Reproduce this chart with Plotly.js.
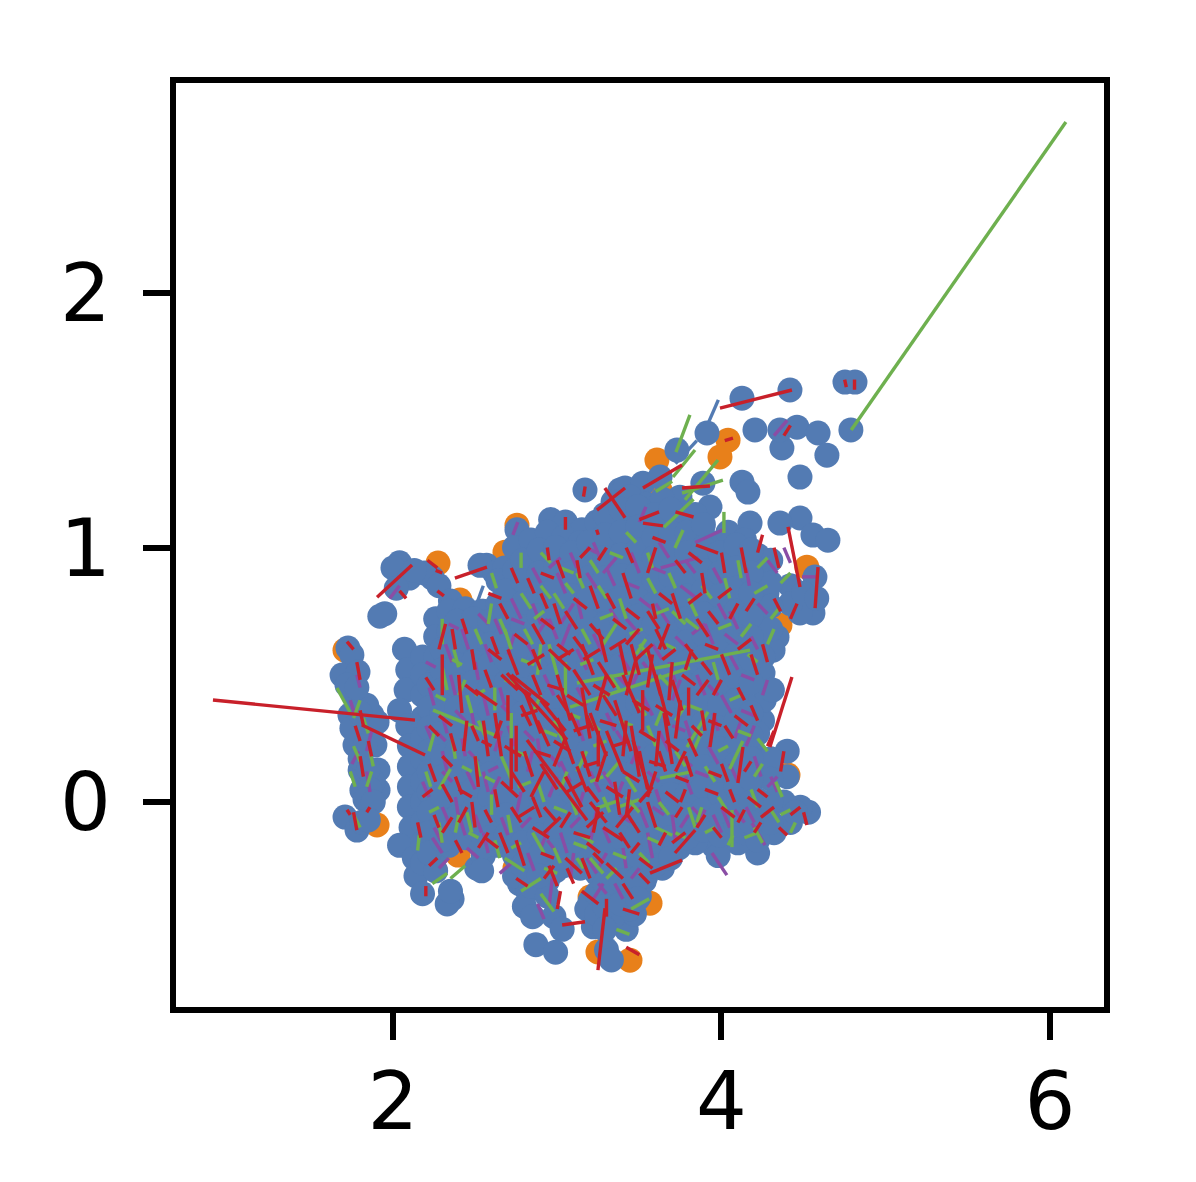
<!DOCTYPE html>
<html>
<head>
<meta charset="utf-8">
<script src="https://cdn.plot.ly/plotly-3.0.1.min.js"></script>
<style>html,body{margin:0;padding:0;background:#fff}</style>
</head>
<body>
<div id="chart" style="width:1196px;height:1182px"></div>
<script>
// values, in axis units
const tickX = [2, 4, 6];
const tickY = [0, 1, 2];

const orangePoints = [[2.274,.939],[2.755,1.088],[2.682,.982],[2.408,.794],[3.607,1.344],[4.04,1.422],[3.991,1.356],[3.626,1.226],[4.52,.923],[4.356,.695],[4.405,.106],[3.443,-.621],[3.248,-.589],[1.903,-.09],[2.743,-.259],[3.2,-.373],[2.396,-.208],[2.256,-.267],[1.708,.597],[2.548,.373],[3.565,-.397]];

// outlying blobs, one by one
const bluePoints = [[4.417,1.619],[4.752,1.65],[4.813,1.65],[4.788,1.462],[4.125,1.587],[4.204,1.462],[4.368,1.391],[4.356,1.462],[4.46,1.473],[4.588,1.45],[4.642,1.363],[4.478,1.277],[3.912,1.45],[3.729,1.383],[4.125,1.257],[4.161,1.218],[3.169,1.226],[3.382,1.226],[3.413,1.234],[3.522,1.253],[3.626,1.277],[3.887,1.253],[3.747,1.198],[3.93,1.159],[4.478,1.116],[4.557,1.049],[4.648,1.029],[4.356,1.096],[4.174,1.096],[4.569,.884],[4.557,.743],[4.478,.743],[4.338,.648],[4.314,.597],[4.277,.821],[4.253,.57],[4.253,.507],[4.42,.85],[4.42,.78],[4.5,.82],[4.58,.8],[3.2,-.39],[3.18,-.42],
  [1.726,.605],[1.75,.578],[1.69,.499],[1.787,.511],[1.769,.42],[1.738,.342],[1.872,.342],[1.811,.283],[1.903,.314],[1.769,.224],[1.89,.224],[1.8,.126],[1.909,.126],[1.811,.047],[1.909,.047],[1.8,.17],[1.88,.08],[1.75,.29],[1.84,.38],[1.83,.22],[1.85,.13],[1.86,.05],[1.83,.01],[1.88,.0],[1.72,.46],[1.78,.45],[1.8,.35],[1.708,-.059],[1.781,-.11],[1.811,-.079],[1.85,-.07],
  [2.04,.94],[2.0,.92],[2.1,.88],[2.02,.84],[1.95,.74],[1.92,.73],[2.24,.88],[2.19,.9],[2.13,.91],[2.28,.85],[2.35,.79],[2.57,.93],[2.53,.93],[2.62,.9],[2.755,1.07],[2.96,1.11],[3.05,1.1],[3.15,1.07],[3.25,1.05],[2.87,1.0],[2.78,.96],[2.68,.92],[2.43,.75],[2.55,.75],
  [2.07,.6],[2.09,.52],[2.08,.44],[2.04,.36],[2.09,.3],[2.1,.22],[2.1,.14],[2.1,.06],[2.1,-.02],[2.11,-.1],[2.04,-.17],[2.13,-.22],[2.14,-.29],[2.18,-.36],[2.36,-.38],[2.33,-.4],[2.35,-.35],[2.51,-.26],[2.55,-.21],[2.77,-.32],[2.82,-.35],[2.8,-.41],[2.85,-.45],[2.98,-.45],[3.03,-.5],[2.87,-.56],[2.99,-.59],[3.22,-.49],[3.3,-.58],[3.33,-.62],[3.42,-.5],[3.47,-.44],[3.5,-.37],[3.53,-.31],
  [4.53,-.04],[4.48,-.02],[4.42,-.08],[4.32,-.12],[4.22,-.2],[4.1,-.16],[3.95,-.17],[3.98,-.21],[4.4,.2],[4.4,.1],[4.38,.0],[4.25,.32],[4.26,.4],[4.31,.44],[4.45,-.04]];

// the dense body, as columns of points
const bodyX = [2.18, 2.26, 2.34, 2.44, 2.54, 2.64, 2.74, 2.84, 2.94, 3.04, 3.14, 3.24, 3.34, 3.44, 3.54, 3.64, 3.74, 3.84, 3.94, 4.04, 4.14, 4.22, 4.3];
const bodyY = [
  [.57,.5,.42,.33,.25,.17,.08,0,-.08,-.16,-.24],
  [.72,.65,.57,.48,.4,.31,.23,.14,.06,-.03,-.11,-.2,-.27],
  [.75,.67,.58,.5,.41,.33,.24,.16,.07,-.02,-.1,-.17],
  [.76,.68,.6,.51,.43,.35,.26,.18,.09,.01,-.07,-.14],
  [.75,.67,.58,.5,.4,.32,.23,.15,.06,-.02,-.1,-.18,-.27],
  [.87,.78,.69,.6,.52,.43,.34,.26,.17,.08,0,-.09,-.17],
  [1.0,.91,.83,.74,.65,.57,.48,.39,.31,.22,.13,.05,-.04,-.12,-.21,-.29],
  [1.03,.95,.86,.78,.69,.6,.52,.43,.34,.26,.17,.09,0,-.08,-.17,-.25,-.33],
  [1.06,.98,.89,.8,.72,.63,.54,.46,.37,.29,.2,.11,.03,-.06,-.14,-.23,-.31,-.37],
  [1.04,.96,.87,.78,.7,.61,.53,.44,.35,.27,.18,.09,.01,-.08,-.16,-.25],
  [1.02,.94,.85,.76,.68,.59,.51,.42,.33,.25,.16,.07,-.01,-.1,-.18,-.26],
  [1.1,1.01,.93,.84,.75,.67,.58,.5,.41,.32,.24,.15,.06,-.02,-.11,-.19,-.28,-.36,-.44],
  [1.18,1.09,1.0,.92,.83,.74,.66,.57,.49,.4,.31,.23,.14,.05,-.03,-.12,-.2,-.29,-.37,-.45],
  [1.2,1.12,1.03,.94,.86,.77,.69,.6,.51,.43,.34,.25,.17,.08,0,-.09,-.17,-.26,-.35,-.42],
  [1.17,1.08,1.0,.91,.82,.74,.65,.57,.48,.39,.31,.22,.13,.05,-.04,-.12,-.21,-.29],
  [1.19,1.1,1.02,.93,.84,.76,.67,.58,.5,.41,.32,.24,.15,.07,-.02,-.1,-.19,-.26],
  [1.1,1.02,.93,.85,.76,.67,.59,.5,.41,.33,.24,.16,.07,-.01,-.1,-.18],
  [1.13,1.05,.96,.87,.79,.7,.62,.53,.44,.36,.27,.18,.1,.01,-.07,-.16],
  [1.02,.94,.85,.76,.68,.59,.51,.42,.33,.25,.16,.07,-.01,-.1],
  [1.06,.97,.88,.8,.71,.62,.54,.45,.36,.28,.19,.11,.02,-.06,-.12],
  [1.03,.95,.86,.78,.69,.6,.52,.39,.3,.22,.13,.05,-.04,-.12],
  [.97,.88,.8,.71,.62,.27,.18,.1,.01,-.07,-.15],
  [.95,.86,.77,.68,.17,.09,0,-.08]
];

// more points between those columns, they close the small holes
const fillX = [2.22, 2.3, 2.39, 2.49, 2.59, 2.69, 2.79, 2.89, 2.99, 3.09, 3.19, 3.29, 3.39, 3.49, 3.59, 3.69, 3.79, 3.89, 3.99, 4.09, 4.18];
const fillY = [
  [.46,.37,.29,.2,.12,.04,-.04,-.12,-.2],
  [.6,.52,.44,.35,.27,.18,.1,.02,-.07,-.15],
  [.71,.63,.54,.46,.37,.29,.2,.12,.03,-.06],
  [.72,.64,.55,.47,.38,.3,.22,.13,.05,-.03,-.1],
  [.71,.62,.54,.45,.36,.28,.19,.11,.02,-.06,-.14],
  [.83,.74,.65,.56,.47,.39,.3,.21,.13,.04,-.05,-.13],
  [.95,.87,.78,.69,.61,.52,.44,.35,.26,.18,.09,.01,-.08,-.16,-.25],
  [.99,.9,.82,.73,.65,.56,.47,.39,.3,.21,.13,.04,-.04,-.13,-.21,-.29],
  [1.0,.92,.84,.75,.67,.58,.5,.41,.32,.24,.15,.07,-.02,-.1,-.19,-.27],
  [.98,.9,.81,.73,.64,.55,.47,.38,.3,.21,.13,.04,-.05,-.13,-.21],
  [1.02,.94,.88,.8,.71,.63,.54,.46,.37,.28,.2,.11,.03,-.06,-.14,-.23],
  [1.13,1.05,.96,.88,.79,.7,.62,.53,.45,.36,.27,.19,.1,.02,-.07,-.15,-.24,-.32,-.41,-.5],
  [1.15,1.06,.97,.89,.8,.72,.63,.54,.46,.37,.29,.2,.11,.03,-.06,-.14,-.23,-.31,-.4],
  [1.16,1.08,.99,.9,.82,.73,.64,.56,.47,.39,.3,.21,.13,.04,-.04,-.13,-.21,-.3,-.38],
  [1.13,1.04,.96,.87,.78,.7,.61,.53,.44,.35,.27,.18,.09,.01,-.08,-.16,-.25],
  [1.15,1.06,.98,.89,.8,.72,.63,.54,.46,.37,.28,.2,.11,.03,-.06,-.14,-.22],
  [1.06,.98,.89,.81,.72,.63,.55,.46,.38,.29,.2,.12,.03,-.05,-.14],
  [1.09,1.0,.91,.83,.74,.66,.57,.48,.4,.31,.22,.14,.06,-.03,-.11],
  [.98,.9,.81,.72,.64,.55,.47,.38,.29,.21,.12,.03,-.05,-.13],
  [1.01,.92,.84,.75,.66,.58,.49,.4,.32,.23,.15,.06,-.02,-.09],
  [.99,.9,.82,.73,.65,.56,.47,.35,.26,.17,.09,0,-.08]
];

// connecting segments as [x1, y1, x2, y2]
const blueSegs = [[3.981,1.58,3.92,1.49],[2.55,.85,2.51,.78],[3.85,1.42,3.72,1.33]];

const purpleSegs = [[3.942,-.2,4.033,-.287],[2.97,-.3,2.95,-.41],[4.186,-.083,4.265,-.169],[3.24,-.03,3.2,-.16],[3.63,.92,3.86,.96],[3.84,1.02,4.01,1.07],[4.32,1.44,4.4,1.5],[4.49,.885,4.58,.885],
  [1.78,.5,1.8,.45],[1.98,.8,2.04,.85],[2.73,1.05,2.76,1.1],[2.5,.55,2.52,.48],[2.62,.72,2.66,.66],[2.85,.78,2.9,.7],[3.0,.9,3.05,.82],[3.12,.8,3.15,.72],[3.3,.92,3.35,.85],[3.45,.98,3.5,.9],[3.6,.78,3.68,.7],[3.75,.85,3.85,.8],[3.9,.7,3.95,.62],[4.05,.75,4.1,.68],[4.15,.92,4.17,.85],[4.2,.3,4.15,.22],[4.05,.15,4.1,.08],[4.0,-.02,4.05,-.1],[3.85,-.1,3.9,-.03],[3.7,-.05,3.72,-.15],[3.55,-.12,3.58,-.22],[3.4,-.18,3.42,-.26],[3.25,-.26,3.3,-.2],[3.1,-.2,3.08,-.3],[2.9,-.18,2.95,-.1],[2.75,-.05,2.78,.04],[2.6,.03,2.65,.1],[2.45,.12,2.5,.05],[2.3,.2,2.33,.12],[2.22,.45,2.25,.38],[2.35,.5,2.38,.42],[2.48,.35,2.5,.28],[2.65,.45,2.68,.38],[2.82,.62,2.88,.55],[3.02,.6,3.08,.7],[3.22,.66,3.28,.58],[3.42,.72,3.5,.66],[3.68,.55,3.72,.47],[3.85,.5,3.9,.42],[4.0,.42,4.06,.35],[3.92,.22,3.98,.15],[3.78,.1,3.82,.03],[3.6,.05,3.64,-.03],[3.35,0,3.4,.08],[3.12,-.05,3.16,.04],[2.95,.02,3.0,.1],[2.82,.12,2.85,.2],[2.62,.2,2.66,.28],[2.4,-.05,2.44,-.13],[2.55,-.12,2.58,-.2],[2.25,-.1,2.3,-.16],[3.25,.4,3.3,.48],[3.52,.42,3.58,.34],[3.2,.12,3.26,.04],[3.45,.15,3.5,.22],
  [2.72,.8,2.78,.72],[2.85,.92,2.9,.86],[3.08,.98,3.12,.92],[3.22,1.02,3.26,.96],[3.5,1.1,3.54,1.16],[3.62,1.02,3.68,.96],[3.78,.95,3.84,.9],[3.95,.92,4.0,.86],[4.18,.65,4.22,.6],[4.28,.95,4.34,.9],[4.38,1.0,4.42,.94],[2.56,.62,2.6,.55],[2.42,.68,2.46,.6],[2.32,.62,2.36,.55],[2.2,.3,2.24,.24],[2.3,.34,2.33,.27],[2.42,.25,2.44,.18],[2.55,.12,2.58,.04],[2.7,.3,2.74,.22],[2.88,.25,2.9,.16],[3.02,.16,3.08,.08],[3.12,.32,3.16,.24],[3.3,.35,3.35,.28],[3.45,.45,3.5,.52],[3.62,.28,3.68,.2],[3.78,.32,3.82,.24],[3.95,.35,3.98,.28],[4.08,.25,4.12,.32],[4.2,.18,4.24,.1],[4.3,.1,4.34,.04],[4.15,-.02,4.2,-.08],[3.95,-.05,4.0,-.12],[3.75,-.1,3.8,-.05],[3.5,-.02,3.55,-.1],[3.28,-.1,3.32,-.16],[3.02,-.12,3.06,-.2],[2.82,-.2,2.86,-.27],[2.66,-.06,2.7,-.13],[2.38,.02,2.4,-.06],[2.18,.08,2.22,.02],[2.3,-.02,2.34,-.08],[2.5,-.05,2.54,-.12],[3.35,-.32,3.4,-.38],[3.22,-.38,3.28,-.32],[2.88,-.4,2.92,-.46],[3.38,.58,3.44,.52],[3.12,.6,3.18,.52],[2.92,.5,2.98,.42],[3.7,.4,3.75,.48],[3.58,.62,3.64,.56],[3.32,.76,3.38,.7],[3.18,.9,3.24,.84],[2.95,.72,3.0,.64],[2.7,.58,2.74,.66],[2.55,.42,2.58,.34],[1.75,.15,1.79,.2],[1.87,.28,1.84,.2],[1.84,.12,1.86,.04],[1.74,.4,1.77,.34],[4.25,.42,4.28,.48],[4.22,.78,4.28,.74],[4.05,.58,4.1,.52],[3.98,.78,4.03,.72],
  [2.2,.55,2.26,.53],[2.34,.7,2.4,.68],[2.52,.74,2.58,.7],[2.72,.72,2.8,.7],[2.95,.92,3.02,.96],[3.18,1.0,3.24,.98],[3.42,.86,3.5,.84],[3.58,.92,3.66,.9],[3.82,.66,3.9,.7],[4.02,.66,4.1,.62],[4.12,.5,4.2,.48],[4.12,.36,4.2,.34],[4.28,.06,4.34,.1],[4.08,-.03,4.14,-.08],[3.84,.12,3.92,.1],[3.7,.3,3.78,.28],[3.52,.55,3.58,.5],[3.36,.5,3.42,.46],[3.12,.45,3.18,.38],[2.96,.18,3.02,.14],[2.8,.28,2.86,.24],[2.66,.38,2.72,.34],[2.46,.2,2.52,.16],[2.3,.12,2.36,.08],[2.24,-.14,2.3,-.2],[2.45,-.18,2.52,-.22],[2.65,-.28,2.72,-.24],[2.94,-.15,3.0,-.2],[3.18,-.22,3.24,-.28],[3.38,-.05,3.45,-.08],[3.58,-.02,3.65,-.05],[3.82,-.02,3.88,-.06],[3.42,.22,3.36,.28],[3.28,.12,3.34,.06],[3.02,.7,3.1,.78],[3.28,.9,3.36,.96],[2.88,.66,2.94,.72],[3.5,.8,3.58,.76],[3.72,.65,3.8,.6],[3.92,.46,3.98,.42],[3.75,.18,3.82,.14],[3.55,.12,3.62,.08],[3.08,-.1,3.14,-.06],[2.78,-.1,2.84,-.06],[2.58,.12,2.64,.14],[2.38,.36,2.44,.32],[2.26,.28,2.32,.24],[2.28,-.26,2.34,-.22],[3.25,-.32,3.3,-.36],[3.45,-.3,3.5,-.26]];

const greenSegs = [[4.79,1.462,6.097,2.672],[3.808,1.521,3.723,1.375],[3.839,1.383,3.705,1.277],[3.979,1.344,3.778,1.187],[4.009,1.265,3.76,1.214],[3.6,1.22,3.7,1.26],[3.83,1.19,3.65,1.08],[3.766,1.069,3.717,.998],[4.015,1.14,4.015,1.057],[3.12,.468,4.174,.597],[3.078,.373,3.808,.527],[2.244,.361,2.621,.263],[1.659,.448,1.738,.354],[3.242,-.024,3.382,.008],[3.37,-.02,3.5,.01],[3.626,.094,3.808,.118],[3.79,.216,3.918,.354],[4.064,-.031,4.064,-.177],[4.04,-.17,4.07,-.13],
  [1.8,.4,1.76,.33],[2.37,.6,2.4,.53],[2.58,.7,2.6,.78],[2.65,.72,2.69,.66],[2.8,.68,2.85,.62],[2.9,.85,2.96,.8],[3.12,.9,3.16,.84],[3.38,.8,3.42,.72],[3.55,.88,3.6,.82],[3.8,.8,3.85,.73],[4.02,.88,4.05,.8],[4.2,.82,4.28,.85],[4.3,.72,4.35,.76],[4.13,.24,4.05,.13],[4.18,.05,4.22,-.02],[4.3,-.03,4.35,-.08],[4.45,-.08,4.42,-.12],[4.25,-.16,4.2,-.1],[3.85,-.08,3.88,-.02],[3.6,-.1,3.7,-.13],[3.45,-.42,3.56,-.38],[3.36,-.5,3.44,-.52],[3.2,-.22,3.28,-.28],[2.9,-.36,2.98,-.43],[2.78,-.35,2.9,-.3],[2.68,-.22,2.8,-.27],[2.6,-.05,2.6,.03],[2.38,-.12,2.4,-.05],[2.35,-.3,2.44,-.25],[2.15,-.19,2.16,-.13],[2.28,.05,2.35,.13],[2.22,.2,2.25,.27],[2.5,.18,2.53,.1],[2.66,.18,2.72,.09],[2.88,.5,2.9,.62],[2.98,.32,3.05,.22],[3.18,.2,3.12,.12],[3.28,.62,3.36,.7],[3.5,.62,3.58,.56],[3.25,.85,3.3,.8],[3.72,.32,3.78,.38],[3.55,.3,3.6,.22],[3.3,.1,3.38,.16],[3.12,-.12,3.22,-.16],[2.85,-.12,2.92,-.2],[2.72,.35,2.72,.25],[2.62,.45,2.62,.36],[2.45,.42,2.48,.35],[2.3,.72,2.3,.62],[2.3,.53,2.33,.44],[1.76,.22,1.8,.16],[1.84,.06,1.87,.12],[1.76,-.05,1.8,-.1],[2.24,-.32,2.33,-.28],[3.88,.28,3.83,.2],[3.7,.75,3.78,.7],[3.05,.42,3.05,.55],[2.95,.62,3.0,.5],[4.33,.08,4.37,.02],[4.2,.1,4.25,.15],
  [2.6,.9,2.63,.84],[2.78,.98,2.78,.92],[2.9,.98,2.96,.94],[3.05,.86,3.1,.82],[3.2,.95,3.25,.9],[3.42,1.06,3.48,1.02],[3.55,.98,3.58,.92],[3.68,.9,3.72,.84],[3.88,.85,3.94,.8],[4.1,.95,4.12,.88],[4.22,.92,4.28,.96],[4.36,.86,4.42,.9],[4.12,.65,4.18,.7],[3.95,.55,3.98,.48],[4.05,.4,4.12,.42],[3.9,.14,3.96,.08],[3.98,.02,4.03,-.03],[3.72,.2,3.78,.14],[3.48,.4,3.54,.34],[3.32,.5,3.38,.44],[3.15,.68,3.2,.62],[2.98,.82,3.04,.76],[2.78,.82,2.84,.76],[2.68,.68,2.72,.6],[2.5,.68,2.54,.62],[2.4,.42,2.44,.48],[2.52,.32,2.56,.26],[2.36,.25,2.38,.17],[2.2,.12,2.23,.06],[2.28,-.08,2.3,-.16],[2.45,-.04,2.48,-.12],[2.62,-.15,2.65,-.22],[2.7,-.05,2.72,-.12],[2.88,.08,2.92,0],[3.08,.02,3.12,-.05],[3.28,.02,3.32,-.04],[3.42,.1,3.48,.04],[3.62,.0,3.68,-.05],[3.8,-.02,3.84,-.1],[3.5,-.2,3.56,-.24],[3.3,-.3,3.36,-.26],[3.12,-.22,3.16,-.26],[2.98,-.18,3.02,-.24],[3.2,.32,3.26,.28],[2.85,.35,2.9,.42],[3.02,.05,3.06,.12],[3.65,.38,3.6,.3],[3.48,.58,3.54,.64],[4.28,.62,4.32,.68],[4.22,.25,4.28,.2],[1.82,.33,1.85,.27],[1.86,.2,1.88,.14],[1.74,.12,1.77,.06],
  [2.26,.42,2.32,.4],[2.36,.56,2.42,.54],[2.5,.42,2.56,.44],[2.68,.48,2.76,.46],[2.86,.72,2.92,.75],[3.02,.92,3.1,.9],[3.32,.98,3.4,.96],[3.6,.74,3.68,.76],[3.78,.72,3.86,.68],[3.98,.68,4.06,.7],[4.16,.58,4.22,.55],[4.1,.28,4.18,.26],[3.98,.2,4.04,.22],[3.8,.38,3.88,.36],[3.62,.5,3.68,.46],[3.38,.32,3.46,.3],[3.22,.22,3.3,.24],[3.06,.35,3.14,.33],[2.92,.28,3.0,.26],[2.74,.2,2.82,.18],[2.56,.1,2.62,.08],[2.42,.14,2.48,.12],[2.22,-.04,2.28,-.02],[2.46,-.12,2.52,-.14],[2.72,-.18,2.78,-.16],[2.92,-.26,3.0,-.28],[3.1,-.16,3.18,-.18],[3.34,-.2,3.42,-.22],[3.55,-.14,3.62,-.16],[3.72,-.12,3.78,-.14],[3.9,-.12,3.96,-.1],[4.14,-.14,4.22,-.12],[4.36,-.05,4.42,-.03],[3.26,.72,3.34,.74],[3.14,.54,3.22,.56],[2.78,.56,2.86,.54],[3.44,.66,3.52,.68],[3.66,.62,3.72,.6],[3.42,.02,3.5,-.04],[3.2,.08,3.28,.1],[2.98,-.02,3.06,-.04],[2.76,.06,2.84,.08]];

const redSegs = [[.904,.401,2.134,.322],[1.811,.303,2.195,.185],[1.903,.805,2.116,.931],[2.377,.88,2.572,.923],[3.991,1.548,4.429,1.619],[3.242,1.147,3.413,1.234],[3.522,1.234,3.76,1.324],[3.29,1.234,3.413,1.117],[4.405,1.081,4.478,.845],[4.588,.923,4.57,.762],[4.429,.491,4.295,.216],[3.845,1.01,3.979,.978],[2.816,.244,3.181,-.071],[3.248,-.66,3.291,-.417],[2.694,.507,3.06,.244],[2.5,.44,2.633,.381],[3.565,-.279,3.76,-.228],[3.717,-.2,3.84,-.11],[3.03,-.483,3.169,-.47],[3.461,.244,3.565,.035],[3.96,.35,3.93,.216],[4.131,.216,4.1,.075],[3.522,1.096,3.644,1.085],[3.5,1.11,3.62,1.14],[3.76,1.234,3.93,1.242],[3.72,1.14,3.83,1.12],
  [3.17,1.24,3.16,1.2],[1.72,.63,1.76,.6],[2.26,.91,2.3,.9],[2.04,.83,2.08,.8],[2.27,.83,2.31,.81],[2.21,.95,2.27,.92],[3.05,1.12,3.05,1.07],[3.24,1.07,3.25,1.05],[2.94,1.0,2.95,.95],[4.75,1.66,4.76,1.63],[4.81,1.66,4.81,1.62],[4.38,1.44,4.42,1.48],[4.02,1.42,4.07,1.43],[2.2,.49,2.25,.44],[2.3,.58,2.3,.42],[2.4,.5,2.42,.35],[2.43,.2,2.45,.32],[2.35,.27,2.38,.2],[2.3,.07,2.36,0],[2.45,-.02,2.4,-.08],[2.18,.02,2.24,.05],[2.3,-.12,2.36,-.06],[2.15,-.08,2.17,-.14],[2.52,-.18,2.58,-.12],[2.48,.0,2.5,-.1],[2.2,-.37,2.2,-.33],[1.8,.18,1.82,.1],[1.77,.3,1.8,.24],[1.85,.24,1.87,.18],[1.76,-.04,1.78,-.11],[1.84,-.04,1.86,-.02],[1.72,-.03,1.74,-.05],
  [2.72,.5,2.95,.38],[2.8,.44,2.9,.27],[2.9,.4,3.05,.28],[3.0,.33,3.1,.15],[3.0,.5,3.08,.32],[3.15,.45,3.2,.25],[3.2,.35,3.3,.18],[3.3,.28,3.4,.12],[3.35,.4,3.45,.2],[3.4,.5,3.5,.35],[3.45,.3,3.5,.1],[3.5,.2,3.55,.05],[3.55,.6,3.63,.42],[3.6,.5,3.68,.3],[3.65,.35,3.7,.15],[3.7,.55,3.68,.4],[3.75,.4,3.72,.25],[3.05,.1,3.15,-.02],[2.9,.15,3.0,.05],[2.75,.3,2.75,.12],[2.72,.25,2.72,.05],[2.8,.2,2.85,.1],[3.1,.52,3.2,.42],[3.25,.55,3.35,.45],[2.95,.6,3.08,.52],[3.25,.68,3.3,.55],[3.45,.62,3.5,.5],[3.58,.58,3.55,.45],[3.15,.2,3.2,.1],[3.35,.08,3.38,-.05],[3.55,0,3.6,-.1],[3.2,0,3.3,-.08],[3.1,-.12,3.2,-.14],[3.28,-.1,3.4,-.15],[3.42,-.04,3.5,-.12],[3.3,-.24,3.4,-.3],[3.05,-.22,3.15,-.28],[2.85,-.1,2.95,-.14],[2.75,-.15,2.8,-.25],[2.95,-.25,3.0,-.33],[3.15,-.35,3.25,-.4],[3.4,-.32,3.46,-.38],[3.42,-.57,3.5,-.6],[3.4,-.42,3.5,-.44],
  [2.62,.35,2.66,.18],[2.55,.32,2.58,.18],[2.5,.18,2.52,.06],[2.62,.05,2.64,-.02],[2.7,.6,2.76,.5],[2.85,.7,2.92,.62],[3.05,.75,3.12,.68],[3.2,.85,3.25,.76],[3.4,.9,3.45,.8],[3.55,.75,3.62,.68],[3.7,.82,3.75,.72],[3.85,.72,3.92,.65],[3.88,.9,3.9,.82],[4.0,.98,4.02,.9],[4.12,1.0,4.15,.9],[4.25,1.05,4.22,.98],[4.32,1.0,4.35,.92],[4.05,.72,4.1,.78],[4.25,.62,4.28,.55],[3.82,.6,3.78,.52],[4.0,.58,4.05,.5],[3.85,.42,3.92,.48],[4.02,.3,4.07,.25],[4.18,.38,4.22,.32],[4.28,.22,4.32,.28],[4.38,.2,4.36,.12],[4.22,.05,4.28,.02],[4.05,.05,4.08,.0],[3.9,.05,3.98,.03],[3.85,-.1,3.9,-.05],[4.2,-.12,4.24,-.08],[4.42,-.05,4.48,-.02],[4.5,-.04,4.52,-.09],[4.35,-.1,4.4,-.13],[3.75,.0,3.78,.05],[3.62,.2,3.66,.12],[3.8,.25,3.85,.18],
  [2.98,.78,3.02,.7],[3.12,.95,3.14,.88],[2.82,.88,2.86,.82],[2.65,.78,2.7,.72],[2.42,.72,2.45,.66],[2.28,.6,2.32,.7],[2.85,.5,2.9,.42],[3.28,.42,3.36,.34],[3.1,.65,3.18,.58],[3.3,.2,3.24,.08],[3.08,.35,3.14,.26],[2.88,.32,2.95,.22],[2.72,.12,2.8,.04],[2.65,-.12,2.7,-.2],[2.92,-.02,3.0,-.08],[3.18,.06,3.25,.0],[3.42,.42,3.48,.56],[3.68,.7,3.62,.6],[3.5,.68,3.42,.62],[3.72,.12,3.78,.2],
  [2.85,.6,2.9,.52],[3.0,.42,3.06,.36],[3.18,.34,3.22,.28],[3.12,.14,3.18,.04],[3.25,.28,3.25,.14],[3.42,.32,3.4,.18],[3.52,.44,3.52,.28],[3.62,.28,3.6,.14],[3.7,.48,3.76,.36],[3.8,.45,3.8,.34],[3.38,.62,3.42,.5],[3.3,.5,3.24,.36],[3.15,.62,3.22,.5],[2.92,.12,2.84,.02],[3.05,.25,2.98,.14],[2.78,.38,2.84,.3],[2.7,.42,2.7,.32],[2.66,.5,2.76,.44],[3.0,.62,3.08,.58],[3.2,.7,3.28,.64],[3.42,.76,3.5,.72],[3.6,.68,3.66,.6],[3.78,.62,3.85,.56],[3.88,.55,3.94,.5],[3.88,.36,3.9,.28],[3.78,.18,3.82,.1],[3.6,.12,3.55,.02],[3.44,.05,3.42,-.06],[3.25,-.02,3.22,-.12],[3.08,-.04,3.02,-.1],[2.9,-.06,2.85,.02],[2.72,-.02,2.78,-.08],[2.62,.25,2.66,.32],[2.56,.52,2.6,.45],[2.48,.6,2.5,.52],[2.36,.68,2.38,.6],[2.48,.3,2.52,.24],[2.38,.1,2.42,.03],[2.22,.15,2.26,.08],[2.25,-.05,2.28,-.1],[2.38,-.15,2.42,-.2],[2.22,-.25,2.27,-.22],[2.56,-.03,2.6,-.08],[2.75,-.3,2.82,-.33],[2.92,-.3,2.98,-.25],[3.1,-.32,3.06,-.26],[3.22,-.2,3.28,-.24],[3.45,-.2,3.5,-.16],[3.62,-.17,3.66,-.12],[3.38,-.12,3.44,-.18],[3.72,-.06,3.76,-.02],[3.95,-.1,4.0,-.14],[4.1,-.08,4.14,-.03],[4.0,.15,4.04,.08],[4.14,.12,4.18,.16],[3.95,.42,4.0,.48],[4.1,.45,4.14,.4],[3.92,.75,3.98,.7],[3.72,.95,3.78,.9],[3.55,.9,3.6,1.0],[3.42,1.0,3.46,.94],[3.25,.95,3.3,1.0],[3.0,.95,3.04,.88],[2.72,.92,2.76,.86],[2.6,.65,2.64,.58],[2.9,.82,2.94,.76],[3.3,.82,3.35,.76],[3.58,.78,3.6,.72],[4.18,.58,4.22,.5],[4.32,.8,4.36,.75],[4.42,.72,4.46,.78],[4.15,.75,4.2,.8],[1.78,.55,1.8,.48],[1.82,.3,1.8,.36],[3.02,-.35,3.0,-.42],[3.3,-.45,3.3,-.38],[3.15,-.22,3.2,-.3],[3.5,-.28,3.56,-.32],
  [2.74,.46,2.84,.42],[2.78,.34,2.88,.36],[2.86,.2,2.96,.18],[2.94,.46,3.04,.44],[2.98,.24,3.08,.2],[3.06,.42,3.16,.38],[3.1,.28,3.2,.3],[3.16,.14,3.26,.16],[3.22,.46,3.32,.42],[3.26,.32,3.36,.3],[3.3,.06,3.4,.02],[3.34,.22,3.44,.24],[3.4,.12,3.5,.08],[3.46,.4,3.56,.36],[3.5,.28,3.6,.24],[3.56,.16,3.66,.14],[3.6,.38,3.7,.34],[3.66,.24,3.74,.2],[3.72,.1,3.8,.08],[3.76,.5,3.84,.46],[2.68,.22,2.78,.18],[2.66,.08,2.76,.02],[2.76,-.06,2.86,-.02],[2.92,-.12,3.02,-.06],[3.06,.04,3.16,.08],[3.18,-.1,3.28,-.04],[3.36,-.1,3.46,-.02],[3.5,.0,3.58,.06],[3.66,.04,3.74,.0],[2.82,.54,2.92,.58],[3.0,.56,3.1,.6],[3.16,.56,3.26,.6],[3.32,.6,3.42,.64],[3.48,.56,3.58,.62],[3.64,.56,3.72,.6],[3.82,.3,3.88,.26],[3.92,.32,4.0,.3],[3.92,.12,4.0,.1],[2.9,.72,2.98,.68],[3.1,.8,3.18,.76],[3.34,.72,3.42,.68],[3.62,.82,3.7,.78],[3.8,.78,3.88,.82],[2.74,.66,2.82,.62],[2.58,.6,2.66,.56],[2.44,.46,2.52,.42],[2.28,.34,2.36,.3],[2.4,.05,2.48,.02],[2.54,.24,2.6,.22],[2.3,.18,2.36,.14],[2.56,-.14,2.64,-.18],[2.9,-.2,2.98,-.22],[3.18,-.16,3.26,-.2],[3.5,-.22,3.58,-.26],[3.7,-.16,3.78,-.12],[4.0,-.02,4.08,-.06],[4.16,.02,4.24,-.02],[4.24,-.06,4.32,-.02],[4.08,.34,4.16,.3],[4.1,.6,4.18,.64],[3.9,.62,3.98,.6],[3.98,.8,4.06,.84],[3.8,.98,3.88,.94],[3.58,1.04,3.66,1.02],[3.2,1.0,3.14,.96],[2.9,.9,2.98,.88],[2.58,.82,2.66,.8],[2.28,.26,2.22,.3]];

const toPairs = segs => {
    const xs = [], ys = [];
    segs.forEach(s => { xs.push(s[0], s[2], null); ys.push(s[1], s[3], null); });
    return {x: xs, y: ys};
};

const blueAll = bluePoints.slice();
bodyX.forEach((x, i) => bodyY[i].forEach(y => blueAll.push([x, y])));
fillX.forEach((x, i) => fillY[i].forEach(y => blueAll.push([x, y])));

const lineTrace = (segs, color) => Object.assign(toPairs(segs), {
    type: 'scatter', mode: 'lines', connectgaps: false,
    line: {color: color, width: 3.4}, hoverinfo: 'skip'
});

const traces = [
    {x: orangePoints.map(p => p[0]), y: orangePoints.map(p => p[1]), type: 'scatter', mode: 'markers',
     marker: {color: '#e8801a', size: 25, line: {width: 0}}},
    lineTrace(blueSegs, '#537bb3'),
    {x: blueAll.map(p => p[0]), y: blueAll.map(p => p[1]), type: 'scatter', mode: 'markers',
     marker: {color: '#537bb3', size: 25, line: {width: 0}}},
    lineTrace(purpleSegs, '#8a4da5'),
    lineTrace(greenSegs, '#6eb04f'),
    lineTrace(redSegs, '#c8202a')
];

const axisStyle = {
    showgrid: false, zeroline: false, showline: true, mirror: true,
    linecolor: '#000', linewidth: 6,
    ticks: 'outside', ticklen: 27, tickwidth: 6, tickcolor: '#000',
    tickfont: {family: 'DejaVu Sans', size: 80, color: '#000'}
};

const layout = {
    width: 1196, height: 1182,
    margin: {l: 176, r: 92, t: 83, b: 175},
    showlegend: false,
    paper_bgcolor: '#fff', plot_bgcolor: '#fff',
    xaxis: Object.assign({}, axisStyle, {range: [.679, 6.329], tickvals: tickX, ticktext: tickX.map(String), ticklabelstandoff: -7}),
    yaxis: Object.assign({}, axisStyle, {range: [-.805, 2.825], tickvals: tickY, ticktext: tickY.map(String), ticklabelstandoff: 16})
};

Plotly.newPlot('chart', traces, layout, {displayModeBar: false});
</script>
</body>
</html>
